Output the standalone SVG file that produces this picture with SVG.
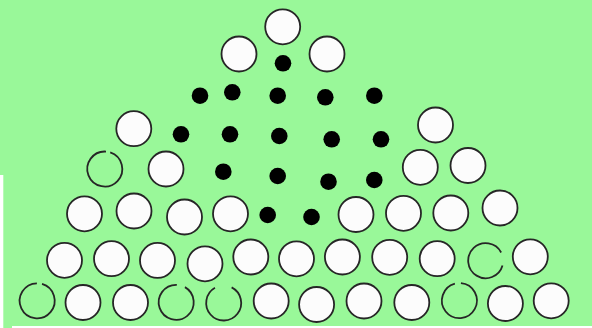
<svg xmlns="http://www.w3.org/2000/svg" width="592" height="328" viewBox="0 0 592 328">
<style>
.c{fill:#fcfcfc;stroke:#262626;stroke-width:1.8}
.o{fill:none;stroke:#262626;stroke-width:1.8}
.d{fill:#000}
</style>
<rect x="0" y="0" width="592" height="328" fill="#99f899"/>
<rect x="0" y="175" width="3.3" height="153" fill="#fff"/>
<rect x="12" y="326" width="580" height="2" fill="#fff"/>
<g id="circles">
<circle class="c" cx="282.7" cy="26.8" r="17.5"/>
<circle class="c" cx="239" cy="54" r="17.5"/>
<circle class="c" cx="327" cy="54" r="17.5"/>
<circle class="c" cx="133.8" cy="128.7" r="17.5"/>
<circle class="c" cx="435.5" cy="125" r="17.5"/>
<circle class="c" cx="166" cy="169" r="17.5"/>
<circle class="c" cx="420.3" cy="167.3" r="17.5"/>
<circle class="c" cx="468" cy="165.5" r="17.5"/>
<circle class="c" cx="84.5" cy="213.8" r="17.5"/>
<circle class="c" cx="134" cy="211" r="17.5"/>
<circle class="c" cx="184.5" cy="217" r="17.5"/>
<circle class="c" cx="230.5" cy="213.8" r="17.5"/>
<circle class="c" cx="356" cy="214.5" r="17.5"/>
<circle class="c" cx="403.5" cy="213.3" r="17.5"/>
<circle class="c" cx="450.8" cy="213" r="17.5"/>
<circle class="c" cx="500" cy="208" r="17.5"/>
<circle class="c" cx="64.5" cy="260.3" r="17.5"/>
<circle class="c" cx="111.5" cy="258.7" r="17.5"/>
<circle class="c" cx="157.5" cy="260.4" r="17.5"/>
<circle class="c" cx="205" cy="263.8" r="17.5"/>
<circle class="c" cx="250.8" cy="257" r="17.5"/>
<circle class="c" cx="296.5" cy="258.8" r="17.5"/>
<circle class="c" cx="342.4" cy="257" r="17.5"/>
<circle class="c" cx="389.7" cy="257.3" r="17.5"/>
<circle class="c" cx="437.2" cy="258.7" r="17.5"/>
<circle class="c" cx="530.3" cy="256.8" r="17.5"/>
<circle class="c" cx="83" cy="302.5" r="17.5"/>
<circle class="c" cx="130.5" cy="302.5" r="17.5"/>
<circle class="c" cx="271.2" cy="301" r="17.5"/>
<circle class="c" cx="316.6" cy="304.5" r="17.5"/>
<circle class="c" cx="364" cy="301" r="17.5"/>
<circle class="c" cx="411.8" cy="302.5" r="17.5"/>
<circle class="c" cx="505.4" cy="303.5" r="17.5"/>
<circle class="c" cx="551.2" cy="300.8" r="17.5"/>
</g>
<g id="open-circles">
<path class="o" d="M110.21 152.36A17.5 17.5 0 1 1 106.02 151.54"/>
<path class="o" d="M42.02 283.98A17.5 17.5 0 1 1 36.89 283.3"/>
<path class="o" d="M184.95 287.14A17.5 17.5 0 1 1 176.81 284.81"/>
<path class="o" d="M231.64 287.41A17.5 17.5 0 1 1 214.95 287.84"/>
<path class="o" d="M502.52 265.52A17.5 17.5 0 1 1 501.15 252.48"/>
<path class="o" d="M460.93 283.17A17.5 17.5 0 1 1 454.87 283.7"/>
</g>
<g id="dots">
<circle class="d" cx="283" cy="63.3" r="8.3"/>
<circle class="d" cx="200" cy="95.7" r="8.3"/>
<circle class="d" cx="232.3" cy="92.3" r="8.3"/>
<circle class="d" cx="277.7" cy="95.7" r="8.3"/>
<circle class="d" cx="325.3" cy="97.3" r="8.3"/>
<circle class="d" cx="374.3" cy="95.7" r="8.3"/>
<circle class="d" cx="181" cy="134.3" r="8.3"/>
<circle class="d" cx="230" cy="134.3" r="8.3"/>
<circle class="d" cx="279.3" cy="136" r="8.3"/>
<circle class="d" cx="331.7" cy="139.3" r="8.3"/>
<circle class="d" cx="381" cy="139.3" r="8.3"/>
<circle class="d" cx="223.3" cy="171.7" r="8.3"/>
<circle class="d" cx="277.7" cy="176" r="8.3"/>
<circle class="d" cx="328.5" cy="181.7" r="8.3"/>
<circle class="d" cx="374.3" cy="180" r="8.3"/>
<circle class="d" cx="267.7" cy="215" r="8.3"/>
<circle class="d" cx="311.5" cy="217" r="8.3"/>
</g>
</svg>
